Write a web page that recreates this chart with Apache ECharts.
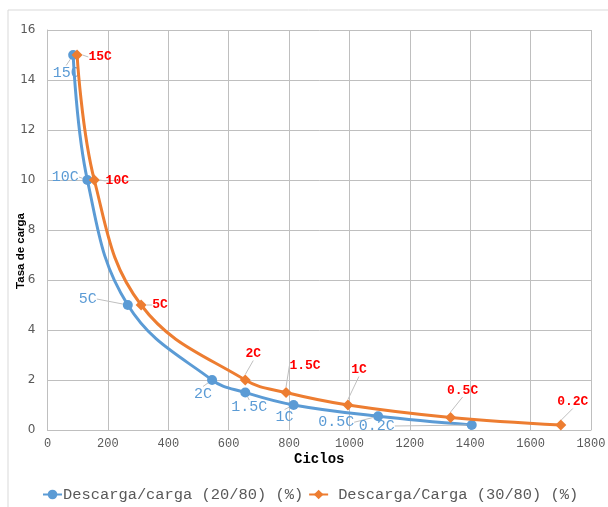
<!DOCTYPE html>
<html><head><meta charset="utf-8">
<script src="https://cdn.jsdelivr.net/npm/echarts@6/dist/echarts.min.js"></script>
<style>html,body{margin:0;padding:0;background:#fff}#c{width:608px;height:507px}</style>
</head><body><div id="c"></div>
<script>
// Data
const labels = ['15C','10C','5C','2C','1.5C','1C','0.5C','0.2C'];
const blueX = [85, 132, 266, 545, 655, 815, 1095, 1405];
const blueY = [15, 10, 5, 2, 1.5, 1, 0.55, 0.2];
const orangeX = [98, 155, 310, 655, 790, 995, 1335, 1700];
const orangeY = [15, 10, 5, 2, 1.5, 1, 0.5, 0.2];
const xTicks = [0,200,400,600,800,1000,1200,1400,1600,1800];
const yTicks = [0,2,4,6,8,10,12,14,16];

// label offsets (style)
const blueOff = [[-7,18],[-22,-3],[-40,-6],[-9,14],[4,15],[-9,12],[-42,6],[-95,1]];
const orangeOff = [[23,2],[23,1],[19,0],[8,-26],[19,-27],[11,-35],[12,-27],[12,-23]];

const mono = '"Liberation Mono", "DejaVu Sans Mono", monospace';
const chart = echarts.init(document.getElementById('c'));
function mk(xs, ys){ return xs.map((x,i)=>({value:[x, ys[i]], name: labels[i]})); }
const n1 = 'Descarga/carga (20/80) (%)', n2 = 'Descarga/Carga (30/80) (%)';
chart.setOption({
  animation:false,
  graphic:[{type:'rect', shape:{x:8,y:10,width:640,height:520}, style:{fill:'none', stroke:'#d9d9d9', lineWidth:1}, silent:true}],
  grid:{left:47.5, right:17, top:30, bottom:77, containLabel:false, outerBoundsMode:'none'},
  xAxis:{type:'value', min:xTicks[0], max:xTicks[xTicks.length-1], interval:xTicks[1]-xTicks[0],
    name:'Ciclos', nameLocation:'middle', nameGap:22, nameMoveOverlap:false,
    nameTextStyle:{fontFamily:mono, fontWeight:'bold', fontSize:14, color:'#000'},
    axisLine:{show:true, lineStyle:{color:'#bfbfbf'}}, axisTick:{show:false},
    axisLabel:{fontFamily:mono, fontSize:12, color:'#595959', margin:8, formatter:(v)=>String(v)},
    splitLine:{show:true, lineStyle:{color:'#bfbfbf'}}},
  yAxis:{type:'value', min:yTicks[0], max:yTicks[yTicks.length-1], interval:yTicks[1]-yTicks[0],
    name:'Tasa de carga', nameLocation:'middle', nameGap:21, nameRotate:90, nameMoveOverlap:false,
    nameTextStyle:{fontFamily:'"Liberation Sans", Arial, sans-serif', fontWeight:'bold', fontSize:11.5, color:'#000', padding:[0,42,0,0]},
    axisLine:{show:true, lineStyle:{color:'#bfbfbf'}}, axisTick:{show:false},
    axisLabel:{fontFamily:'"DejaVu Sans", sans-serif', fontSize:12, color:'#595959', margin:12},
    splitLine:{show:true, lineStyle:{color:'#bfbfbf'}}},
  legend:{bottom:0, left:37, itemGap:5, itemWidth:19, itemHeight:12,
    textStyle:{fontFamily:mono, fontSize:15.4, color:'#595959', padding:[0,0,0,-4]},
    data:[{name:n1}, {name:n2, textStyle:{padding:[0,0,0,5]}}]},
  series:[
    {name:n1, type:'line', smooth:0.4,
     data: mk(blueX, blueY), symbol:'circle', symbolSize:10,
     lineStyle:{width:3, color:'#5B9BD5'}, itemStyle:{color:'#5B9BD5'},
     label:{show:true, position:'inside', formatter:'{b}', fontFamily:mono, fontSize:15, color:'#5B9BD5'},
     labelLine:{show:true, lineStyle:{color:'#bfbfbf', width:1}},
     labelLayout:(p)=>({dx:blueOff[p.dataIndex][0], dy:blueOff[p.dataIndex][1]}),
     z:3},
    {name:n2, type:'line', smooth:0.4,
     data: mk(orangeX, orangeY), symbol:'diamond', symbolSize:11,
     lineStyle:{width:3, color:'#ED7D31'}, itemStyle:{color:'#ED7D31'},
     label:{show:true, position:'inside', formatter:'{b}', fontFamily:mono, fontSize:13, fontWeight:'bold', color:'#FF0000'},
     labelLine:{show:true, lineStyle:{color:'#bfbfbf', width:1}},
     labelLayout:(p)=>({dx:orangeOff[p.dataIndex][0], dy:orangeOff[p.dataIndex][1]}),
     z:4}
  ]
});
</script></body></html>
